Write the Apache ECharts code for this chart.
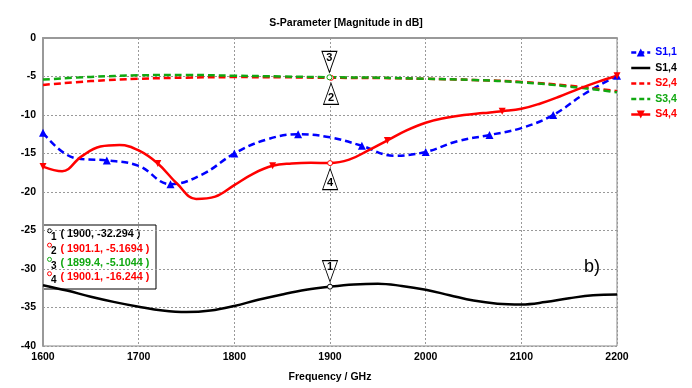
<!DOCTYPE html>
<html><head><meta charset="utf-8">
<script src="https://cdn.jsdelivr.net/npm/echarts@6/dist/echarts.min.js"></script>
<style>html,body{margin:0;padding:0;background:#fff}#c{width:692px;height:388px}</style>
</head><body><div id="c"></div>
<script>
const xTicks = [1600, 1700, 1800, 1900, 2000, 2100, 2200];
const yTicks = [0, -5, -10, -15, -20, -25, -30, -35, -40];

const s11Freq = [1600,1633.3,1666.7,1700,1733.3,1766.7,1800,1833.3,1866.7,1900,1933.3,1966.7,2000,2033.3,2066.7,2100,2133.3,2166.7,2200];
const s11Val  = [-12.3,-15.6,-15.9,-16.6,-19.0,-17.7,-15.0,-13.2,-12.5,-12.9,-14.0,-15.3,-14.8,-13.4,-12.6,-11.7,-10.0,-7.2,-4.9];

const s14Freq = [1600,1625,1650,1675,1700,1725,1750,1775,1800,1825,1850,1875,1900,1925,1950,1975,2000,2025,2050,2075,2100,2125,2150,2175,2200];
const s14Val  = [-32.1,-32.8,-33.6,-34.3,-34.9,-35.4,-35.6,-35.4,-34.8,-34.0,-33.3,-32.7,-32.29,-32.0,-31.9,-32.2,-32.7,-33.4,-34.1,-34.5,-34.6,-34.3,-33.8,-33.4,-33.3];

const s24Freq = [1600,1650,1700,1750,1800,1850,1900,1950,2000,2050,2100,2150,2200];
const s24Val  = [-6.1,-5.6,-5.3,-5.15,-5.08,-5.1,-5.17,-5.2,-5.3,-5.45,-5.7,-6.2,-6.9];

const s34Freq = [1600,1650,1700,1750,1800,1850,1900,1950,2000,2050,2100,2150,2200];
const s34Val  = [-5.4,-5.05,-4.85,-4.8,-4.9,-5.0,-5.1,-5.15,-5.3,-5.45,-5.75,-6.3,-7.05];

const s44Freq = [1600,1620,1640,1660,1680,1700,1720,1740,1760,1780,1800,1820,1840,1860,1880,1900,1920,1940,1960,1980,2000,2020,2040,2060,2080,2100,2120,2140,2160,2180,2200];
const s44Val  = [-16.7,-17.3,-15.4,-14.1,-13.9,-14.6,-16.3,-18.9,-20.9,-20.6,-19.1,-17.6,-16.6,-16.3,-16.2,-16.24,-15.8,-14.6,-13.3,-12.0,-11.0,-10.4,-10.0,-9.75,-9.5,-9.2,-8.5,-7.6,-6.6,-5.7,-4.9];

const markerIds   = ['1', '2', '3', '4'];
const markerFreq  = [1900, 1901.1, 1899.4, 1900.1];
const markerValue = [-32.294, -5.1694, -5.1044, -16.244];
const markerFreqText  = ['1900', '1901.1', '1899.4', '1900.1'];
const markerValueText = ['-32.294', '-5.1694', '-5.1044', '-16.244'];

const BLUE = '#0000ff', RED = '#ff0000', GREEN = '#11a811', BLACK = '#000000';
const FONT = '"Liberation Sans", Arial, sans-serif';
const DASH = [7, 4];

function withMarkers(freq, val, every) {
  return freq.map((f, i) => i % every === 0 ? [f, val[i]] : { value: [f, val[i]], symbol: 'none' });
}
function plain(freq, val) { return freq.map((f, i) => [f, val[i]]); }

const DOWN = 'path://M0,0L16,0L8,22Z';
const UP = 'path://M8,0L16,22L0,22Z';
function mark(idx, color, above) {
  return {
    silent: true, animation: false,
    data: [
      { coord: [markerFreq[idx], markerValue[idx]], symbol: above ? DOWN : UP, symbolSize: [15, 21],
        symbolOffset: [0, above ? -15.5 : 16],
        itemStyle: { color: '#fff', borderColor: '#000', borderWidth: 1 },
        label: { show: true, formatter: markerIds[idx], position: 'inside', offset: [0, above ? -4 : 4],
                 color: '#000', fontWeight: 'bold', fontSize: 11, fontFamily: FONT } },
      { coord: [markerFreq[idx], markerValue[idx]], symbol: 'circle', symbolSize: 5,
        itemStyle: { color: '#fff', borderColor: color, borderWidth: 1 }, label: { show: false } }
    ]
  };
}

const boxColors = [BLACK, RED, GREEN, RED];
const boxChildren = [{ type: 'rect', shape: { x: 43, y: 225, width: 113, height: 64 },
  style: { fill: '#fff', stroke: '#000', lineWidth: 1 } }];
markerIds.forEach((id, i) => {
  const cy = 234.3 + i * 14.3;
  boxChildren.push({ type: 'circle', shape: { cx: 49.5, cy: cy - 3.5, r: 2 }, style: { fill: '#fff', stroke: boxColors[i], lineWidth: 1 } });
  boxChildren.push({ type: 'text', x: 51, y: cy + 3, style: { text: id, fill: '#000', font: 'bold 10px ' + FONT, textVerticalAlign: 'middle' } });
  boxChildren.push({ type: 'text', x: 60.5, y: cy, style: { text: '( ' + markerFreqText[i] + ', ' + markerValueText[i] + ' )',
    fill: boxColors[i], font: 'bold 10.8px ' + FONT, textVerticalAlign: 'middle' } });
});

const hideSym = { opacity: 0 };
const chart = echarts.init(document.getElementById('c'), null, { renderer: 'canvas' });
chart.setOption({
  animation: false,
  backgroundColor: '#fff',
  title: { text: 'S-Parameter [Magnitude in dB]', left: 'center', top: 13,
    textStyle: { fontSize: 10.5, fontWeight: 'bold', color: '#000', fontFamily: FONT } },
  grid: { left: 43, right: 75, top: 38, bottom: 35, show: true, borderColor: '#888', borderWidth: 1 },
  legend: {
    orient: 'vertical', left: 625, top: 42, itemWidth: 19, itemHeight: 10, itemGap: 4.5,
    textStyle: { fontSize: 10.5, fontWeight: 'bold', fontFamily: FONT },
    data: [
      { name: 'S1,1', textStyle: { color: BLUE }, lineStyle: { type: [5, 3], width: 2.5 } },
      { name: 'S1,4', textStyle: { color: BLACK }, lineStyle: { width: 2.5 }, itemStyle: hideSym },
      { name: 'S2,4', textStyle: { color: RED }, lineStyle: { type: [5, 3], width: 2.5 }, itemStyle: hideSym },
      { name: 'S3,4', textStyle: { color: GREEN }, lineStyle: { type: [5, 3], width: 2.5 }, itemStyle: hideSym },
      { name: 'S4,4', textStyle: { color: RED }, lineStyle: { width: 2.5 } }
    ]
  },
  xAxis: {
    type: 'value', min: xTicks[0], max: xTicks[xTicks.length - 1], interval: 100,
    name: 'Frequency / GHz', nameLocation: 'middle', nameGap: 26,
    nameTextStyle: { fontSize: 10.5, fontWeight: 'bold', color: '#000', fontFamily: FONT },
    axisLine: { show: true, lineStyle: { color: '#999', width: 2 } },
    axisTick: { show: false },
    axisLabel: { fontSize: 10.5, fontWeight: 'bold', color: '#000', fontFamily: FONT, margin: 6,
      formatter: v => String(v) },
    splitLine: { show: true, lineStyle: { color: '#999', type: [2, 2], width: 1 } }
  },
  yAxis: {
    type: 'value', min: yTicks[yTicks.length - 1], max: yTicks[0], interval: 5,
    axisLine: { show: true, lineStyle: { color: '#999', width: 2 } },
    axisTick: { show: false },
    axisLabel: { fontSize: 10.5, fontWeight: 'bold', color: '#000', fontFamily: FONT, margin: 7,
      formatter: v => String(v) },
    splitLine: { show: true, lineStyle: { color: '#999', type: [2, 2], width: 1 } }
  },
  graphic: [{ type: 'group', z: 100, children: boxChildren },
    { type: 'text', left: 584, top: 258, z: 100, style: { text: 'b)', fill: '#000', font: '18px ' + FONT } }],
  series: [
    { name: 'S1,1', type: 'line', smooth: 0.4, data: withMarkers(s11Freq, s11Val, 2), symbol: 'triangle', symbolSize: 8,
      showAllSymbol: true, lineStyle: { color: BLUE, width: 2.5, type: DASH }, itemStyle: { color: BLUE }, z: 3 },
    { name: 'S1,4', type: 'line', smooth: 0.4, data: plain(s14Freq, s14Val), symbol: 'none',
      lineStyle: { color: BLACK, width: 2.5 }, itemStyle: { color: BLACK }, markPoint: mark(0, BLACK, true) },
    { name: 'S2,4', type: 'line', smooth: 0.4, data: plain(s24Freq, s24Val), symbol: 'none',
      lineStyle: { color: RED, width: 2.5, type: DASH }, itemStyle: { color: RED }, markPoint: mark(1, RED, false) },
    { name: 'S3,4', type: 'line', smooth: 0.4, data: plain(s34Freq, s34Val), symbol: 'none',
      lineStyle: { color: GREEN, width: 2.5, type: DASH }, itemStyle: { color: GREEN }, markPoint: mark(2, GREEN, true) },
    { name: 'S4,4', type: 'line', smooth: 0.4, data: withMarkers(s44Freq, s44Val, 6), symbol: 'triangle', symbolRotate: 180, symbolSize: 7,
      showAllSymbol: true, lineStyle: { color: RED, width: 2.5 }, itemStyle: { color: RED }, markPoint: mark(3, RED, false) }
  ]
});
</script></body></html>
